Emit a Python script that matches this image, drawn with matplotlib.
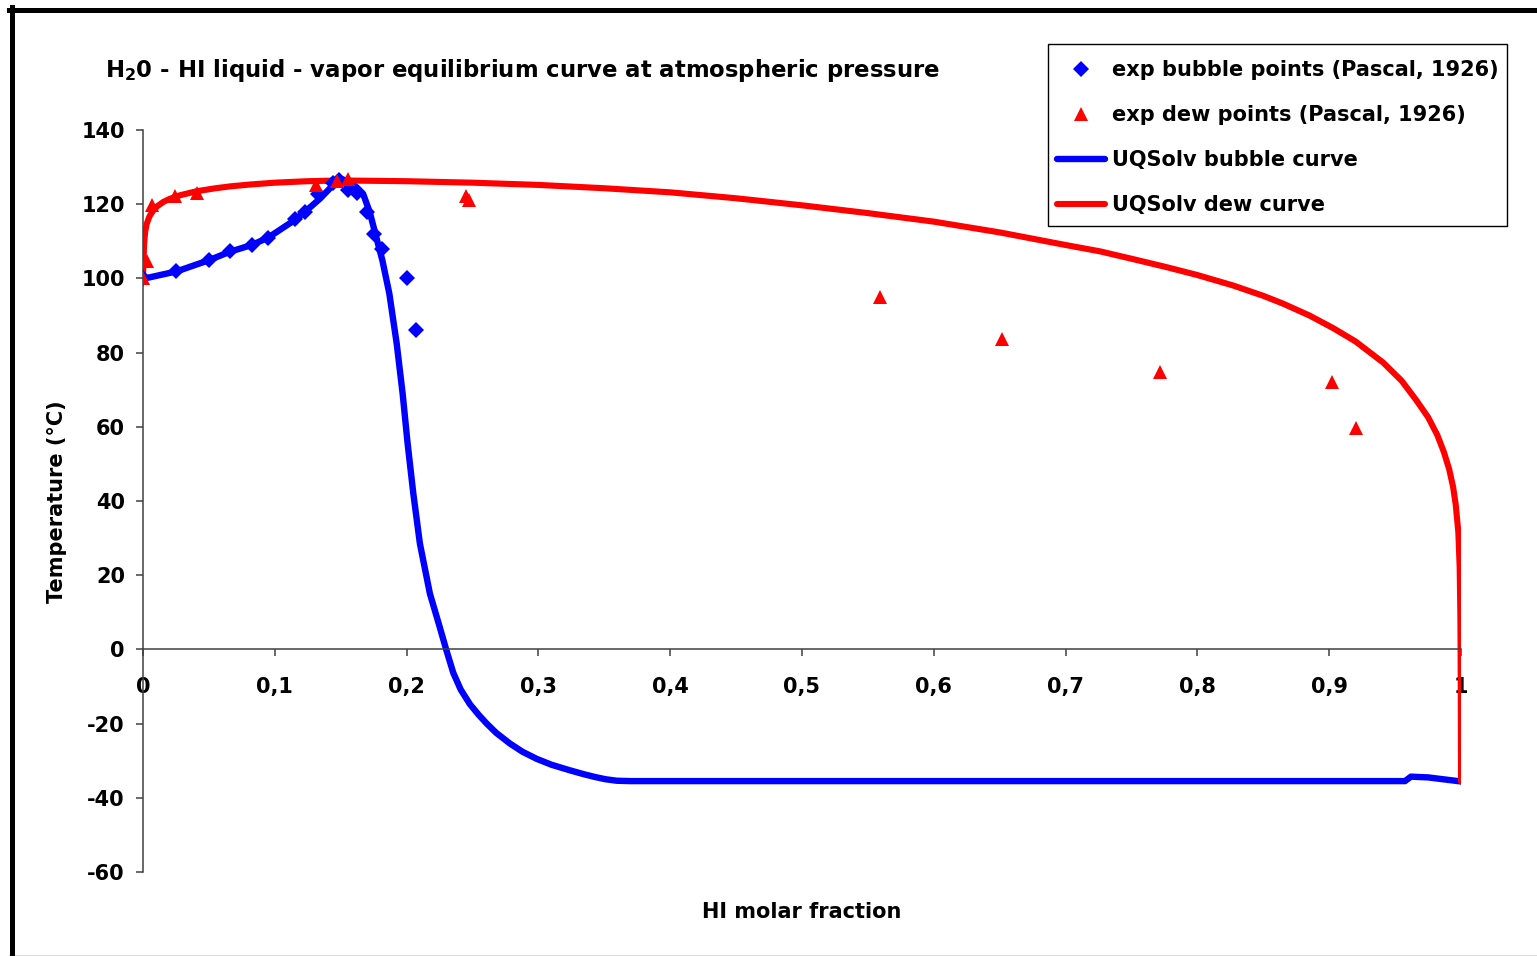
import matplotlib
matplotlib.use('Agg')
import matplotlib.pyplot as plt
from matplotlib.lines import Line2D
from matplotlib.patches import Rectangle
from matplotlib.ticker import FuncFormatter

# experimental points (Pascal, 1926)
bubble_x = [0.0, 0.025, 0.050, 0.066, 0.0825, 0.095, 0.115, 0.123, 0.133, 0.144, 0.149,
            0.1555, 0.162, 0.170, 0.175, 0.1816, 0.200, 0.207]
bubble_T = [100, 102, 105, 107.3, 109, 111, 116, 118, 122.8, 125.6, 126.5,
            123.8, 123, 118, 112, 108, 100, 86]

dew_x = [0.0, 0.003, 0.0066, 0.024, 0.041, 0.131, 0.147, 0.1555, 0.245, 0.247,
         0.559, 0.652, 0.772, 0.902, 0.920]
dew_T = [100, 104.8, 119.7, 122.1, 123, 125.3, 126.2, 126.9, 122.2, 121.2,
         94.9, 83.8, 74.9, 72, 59.8]

# UQSolv model curves
bub_curve_x = [0, 0.0053, 0.0256, 0.05, 0.066, 0.0825, 0.095, 0.115, 0.124, 0.1343,
               0.147, 0.1495, 0.155, 0.162, 0.167, 0.172, 0.177, 0.1816, 0.1869, 0.1925,
               0.197, 0.2008, 0.2051, 0.2101, 0.2177, 0.2245, 0.2300, 0.2354, 0.241,
               0.2481, 0.2546, 0.2608, 0.268, 0.2785, 0.288, 0.2987, 0.31, 0.324, 0.334,
               0.343, 0.351, 0.3594, 0.37, 0.9575, 0.962, 0.975, 1.0]
bub_curve_T = [100, 100.3, 101.9, 104.9, 107.2, 109, 111, 115.7, 118.3, 121.5,
               126.2, 126.9, 126.3, 124.6, 122.8, 117.9, 111.1, 104.9, 95.9, 82.4,
               68.9, 55.4, 42, 28.5, 15, 6.8, 0, -6.3, -10.8,
               -14.8, -17.6, -20, -22.5, -25.4, -27.6, -29.5, -31.1, -32.6, -33.6,
               -34.4, -35.0, -35.4, -35.5, -35.5, -34.3, -34.5, -35.6]

dew_curve_x = [0, 0.0003, 0.0008, 0.0016, 0.0028, 0.005, 0.0078, 0.011, 0.0154, 0.02,
               0.028, 0.0407, 0.055, 0.066, 0.081, 0.1, 0.125, 0.15, 0.2, 0.25, 0.3,
               0.35, 0.4, 0.45, 0.5, 0.55, 0.6, 0.65, 0.7, 0.726, 0.75, 0.777, 0.8,
               0.827, 0.85, 0.865, 0.885, 0.903, 0.92, 0.941, 0.955, 0.966, 0.975,
               0.982, 0.987, 0.991, 0.994, 0.996, 0.998, 0.999, 0.9995, 0.9997,
               0.9999, 1.0]
dew_curve_T = [100, 104, 109, 112.5, 114.7, 116.8, 118.3, 119.5, 120.6, 121.4,
               122.4, 123.5, 124.3, 124.8, 125.3, 125.8, 126.2, 126.4, 126.2, 125.8, 125.2,
               124.3, 123.2, 121.6, 119.7, 117.6, 115.3, 112.4, 109.0, 107.3, 105.3, 103.0, 100.9,
               98.1, 95.3, 93.2, 90.0, 86.6, 83.0, 77.3, 72.4, 67.2, 62.6,
               57.8, 53.2, 48.6, 43.8, 39.0, 31.5, 22, 10, 0,
               -20, -35.5]

x_ticks = [0, 0.1, 0.2, 0.3, 0.4, 0.5, 0.6, 0.7, 0.8, 0.9, 1.0]
y_ticks = [-60, -40, -20, 0, 20, 40, 60, 80, 100, 120, 140]

plt.rcParams['font.family'] = 'DejaVu Sans'
plt.rcParams['mathtext.fontset'] = 'dejavusans'
plt.rcParams['axes.unicode_minus'] = False

W, H = 1537, 956
fig = plt.figure(figsize=(W / 100, H / 100), dpi=100)
ax = fig.add_axes([143 / W, 1 - 872 / H, 1318 / W, 742 / H])

ax.plot(bub_curve_x, bub_curve_T, color='#0000ff', lw=4.6, label='UQSolv bubble curve',
        solid_capstyle='round', solid_joinstyle='round', zorder=2)
ax.plot(dew_curve_x, dew_curve_T, color='#ff0000', lw=4.4, label='UQSolv dew curve',
        solid_capstyle='round', solid_joinstyle='round', zorder=2)
ax.plot(bubble_x, bubble_T, ls='none', marker='D', ms=8, mew=0, color='#0000ff',
        label='exp bubble points (Pascal, 1926)', zorder=3)
ax.plot(dew_x, dew_T, ls='none', marker='^', ms=10, mew=0, color='#ff0000',
        label='exp dew points (Pascal, 1926)', zorder=4)

ax.set_xlim(0, 1)
ax.set_ylim(-60, 140)
ax.set_xticks(x_ticks)
ax.set_yticks(y_ticks)
ax.xaxis.set_major_formatter(FuncFormatter(lambda v, p: ('%g' % round(v, 1)).replace('.', ',')))

for s in ['top', 'right']:
    ax.spines[s].set_visible(False)
ax.spines['bottom'].set_position(('data', 0))
for s in ['left', 'bottom']:
    ax.spines[s].set_color('#404040')
    ax.spines[s].set_linewidth(1.1)
ax.tick_params(axis='both', direction='out', length=5, width=1.1, color='#404040',
               labelsize=15)
ax.tick_params(axis='x', pad=15)
ax.tick_params(axis='y', pad=8)
for lab in ax.get_xticklabels() + ax.get_yticklabels():
    lab.set_fontweight('bold')

fig.text(105 / W, 1 - 70 / H, r'H$_\mathbf{2}$0 - HI liquid - vapor equilibrium curve at atmospheric pressure',
         fontsize=16.35, fontweight='bold', ha='left', va='center')
fig.text(802 / W, 1 - 912 / H, 'HI molar fraction', fontsize=15, fontweight='bold',
         ha='center', va='center')
fig.text(57 / W, 1 - 502 / H, 'Temperature (°C)', fontsize=15, fontweight='bold',
         ha='center', va='center', rotation=90)

# legend: frame drawn separately so padding can differ per side
handles, labels = ax.get_legend_handles_labels()
order = [2, 3, 0, 1]
leg = ax.legend([handles[i] for i in order], [labels[i] for i in order],
                loc='upper left', bbox_to_anchor=(1048 / W, 1 - 51 / H),
                bbox_transform=fig.transFigure, borderaxespad=0, numpoints=1,
                prop={'weight': 'bold', 'size': 15}, frameon=False,
                handlelength=2.3, handletextpad=0.3, labelspacing=1.2, borderpad=0.45)
leg.set_zorder(6)
ax.add_patch(Rectangle((1048 / W, 1 - 226 / H), 459 / W, 182 / H, transform=fig.transFigure,
                       facecolor='white', edgecolor='black', lw=1.0, zorder=5, clip_on=False))

# chart area border
fig.add_artist(Line2D([11.5 / W, 11.5 / W], [0, 1 - 7 / H], transform=fig.transFigure,
                      color='black', lw=3.6))
fig.add_artist(Line2D([9 / W, 1], [1 - 9.5 / H, 1 - 9.5 / H], transform=fig.transFigure,
                      color='black', lw=3.6))
fig.add_artist(Line2D([9 / W, 1], [0.5 / H, 0.5 / H], transform=fig.transFigure,
                      color='#404040', lw=1))

fig.savefig('out.png', dpi=100)
